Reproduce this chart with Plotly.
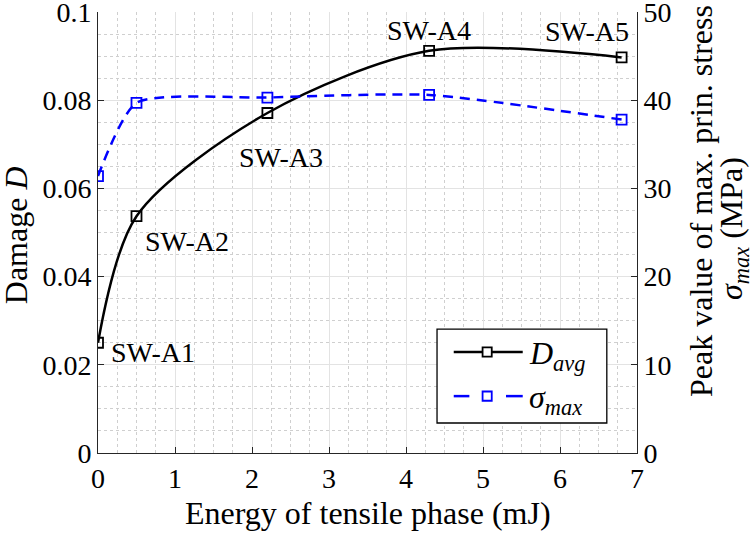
import plotly.graph_objects as go

energy = [0.0, 0.5, 2.2, 4.3, 6.8]
damage_avg = [0.0250, 0.0537, 0.0771, 0.0912, 0.0897]
sigma_max = [31.4, 39.7, 40.3, 40.6, 37.8]
labels = ["SW-A1", "SW-A2", "SW-A3", "SW-A4", "SW-A5"]

x_ticks = [0, 1, 2, 3, 4, 5, 6, 7]
y_ticks = [0, 0.02, 0.04, 0.06, 0.08, 0.1]
y_ticklabels = ["0", "0.02", "0.04", "0.06", "0.08", "0.1"]
y2_ticks = [0, 10, 20, 30, 40, 50]

FONT = "Liberation Serif"
AX = "#262626"
FS_TICK = 28
FS_LAB = 28
FS_TITLE = 32

fig = go.Figure()
fig.add_trace(go.Scatter(
    x=energy, y=damage_avg, mode="lines+markers", showlegend=False,
    name="D_avg",
    line=dict(color="black", width=2.5, shape="spline", smoothing=0.85),
    marker=dict(symbol="square-open", size=10, color="black", line=dict(width=1.8)),
))
fig.add_trace(go.Scatter(
    x=energy, y=sigma_max, mode="lines+markers", yaxis="y2", showlegend=False,
    name="sigma_max",
    line=dict(color="#0000ff", width=2.5, dash="10px,7px", shape="spline", smoothing=0.6),
    marker=dict(symbol="square-open", size=10, color="#0000ff", line=dict(width=1.8)),
))

shifts = [(11, -10, "left"), (6, -25, "left"), (14, -45, "center"), (0, 20, "center"), (9, 26, "right")]
for xv, yv, t, (dx, dy, anc) in zip(energy, damage_avg, labels, shifts):
    fig.add_annotation(x=xv, y=yv, xref="x", yref="y", text=t, showarrow=False,
                       xanchor=anc, yanchor="middle", xshift=dx, yshift=dy,
                       font=dict(family=FONT, size=FS_LAB, color="black"))

# axis titles
title_font = dict(family=FONT, size=FS_TITLE, color="black")
fig.add_annotation(x=0.5, y=-0.136, xref="paper", yref="paper", showarrow=False,
                   xanchor="center", yanchor="middle",
                   text="Energy of tensile phase (mJ)", font=title_font)
fig.add_annotation(x=-0.152, y=0.494, xref="paper", yref="paper", showarrow=False,
                   xanchor="center", yanchor="middle", textangle=-90,
                   text="Damage <i>D</i>", font=title_font)
fig.add_annotation(x=1.1187, y=0.5714, xref="paper", yref="paper", showarrow=False,
                   xanchor="center", yanchor="middle", textangle=-90,
                   text="Peak value of max. prin. stress", font=title_font)
fig.add_annotation(x=1.178, y=0.5102, xref="paper", yref="paper", showarrow=False,
                   xanchor="center", yanchor="middle", textangle=-90,
                   text="<i>σ</i><sub><i>max</i></sub> (MPa)", font=title_font)

# legend drawn as a framed key in paper coordinates
shapes = [
    dict(type="rect", xref="paper", yref="paper", x0=0.629, x1=0.944, y0=0.068, y1=0.281,
         line=dict(color="black", width=1.3), fillcolor="white", layer="above"),
    dict(type="line", xref="paper", yref="paper", x0=0.660, x1=0.788, y0=0.229, y1=0.229,
         line=dict(color="black", width=2.5), layer="above"),
    dict(type="rect", xref="paper", yref="paper", x0=0.722 - 0.0085, x1=0.722 + 0.0085,
         y0=0.229 - 0.0105, y1=0.229 + 0.0105, line=dict(color="black", width=1.8),
         fillcolor="white", layer="above"),
    dict(type="line", xref="paper", yref="paper", x0=0.660, x1=0.689, y0=0.129, y1=0.129,
         line=dict(color="#0000ff", width=2.5), layer="above"),
    dict(type="line", xref="paper", yref="paper", x0=0.757, x1=0.788, y0=0.129, y1=0.129,
         line=dict(color="#0000ff", width=2.5), layer="above"),
    dict(type="rect", xref="paper", yref="paper", x0=0.722 - 0.0085, x1=0.722 + 0.0085,
         y0=0.129 - 0.0105, y1=0.129 + 0.0105, line=dict(color="#0000ff", width=1.8),
         fillcolor="white", layer="above"),
]
fig.add_annotation(x=0.796, y=0.229, xref="paper", yref="paper", showarrow=False,
                   xanchor="left", yanchor="middle", yshift=-3,
                   text="<i>D</i><sub><i>avg</i></sub>",
                   font=dict(family=FONT, size=32, color="black"))
fig.add_annotation(x=0.796, y=0.129, xref="paper", yref="paper", showarrow=False,
                   xanchor="left", yanchor="middle", yshift=-3,
                   text="<i>σ</i><sub><i>max</i></sub>",
                   font=dict(family=FONT, size=32, color="black"))

tickfont = dict(family=FONT, size=FS_TICK, color="black")
fig.update_layout(
    width=750, height=534,
    margin=dict(l=98, r=113, t=12, b=81, autoexpand=False),
    paper_bgcolor="white", plot_bgcolor="white",
    font=dict(family=FONT, size=FS_TICK, color="black"),
    showlegend=False,
    shapes=shapes,
    xaxis=dict(range=[0, 7], tickvals=x_ticks, ticks="inside", ticklen=6,
               tickcolor=AX, showline=True, linecolor=AX, linewidth=1, tickfont=tickfont,
               showgrid=True, gridcolor="#e3e3e3", gridwidth=1,
               minor=dict(dtick=0.25, showgrid=True, gridcolor="#cfcfcf", griddash="dot", gridwidth=1),
               zeroline=False, ticklabeloverflow="allow", ticklabelstandoff=0),
    yaxis=dict(range=[0, 0.1], tickvals=y_ticks, ticktext=y_ticklabels,
               ticks="inside", ticklen=6, tickcolor=AX, tickfont=tickfont,
               showline=True, linecolor=AX, linewidth=1,
               showgrid=True, gridcolor="#e3e3e3", gridwidth=1,
               minor=dict(dtick=0.005, showgrid=True, gridcolor="#cfcfcf", griddash="dot", gridwidth=1),
               zeroline=False, ticklabeloverflow="allow"),
    yaxis2=dict(range=[0, 50], tickvals=y2_ticks, overlaying="y", side="right",
                ticks="inside", ticklen=6, tickcolor=AX, tickfont=tickfont,
                showline=True, linecolor=AX, linewidth=1,
                showgrid=False, zeroline=False, ticklabeloverflow="allow"),
)

fig.write_html("out.html", config={"displayModeBar": False},
               post_script="document.body.style.margin='0';")
